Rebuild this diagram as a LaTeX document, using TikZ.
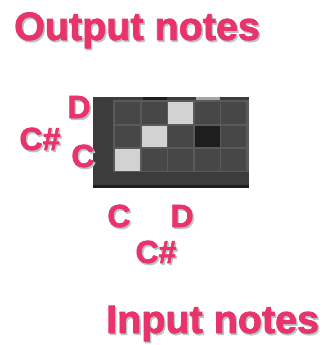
\documentclass[tikz,border=0pt]{standalone}
\usepackage{fontspec}
\setmainfont{Liberation Sans}
\newfontfamily\notefont{Liberation Sans Bold}[FakeBold=2]
\usetikzlibrary{positioning}
\definecolor{notepink}{HTML}{E8336B}
\definecolor{noteshadow}{HTML}{B4C6C6}
\definecolor{gridbg}{HTML}{3C3C3C}
\definecolor{gridgap}{HTML}{5A5A5A}
\definecolor{cellgray}{HTML}{474747}
\definecolor{cellon}{HTML}{D2D2D2}
\definecolor{celldark}{HTML}{1E1E1E}

% nhãn có bóng mờ
\newcommand{\notelabel}[4]{%
  \node[notetext, text=noteshadow, #4] (#1-s) at ([shift={(1.5,1.8)}]#2) {#3};
  \node[notetext, #4] (#1) at (#2) {#3};
}

\begin{document}
\begin{tikzpicture}[x=1pt, y=-1pt,
    notetext/.style={font=\notefont\fontsize{32}{32}\selectfont, text=notepink, inner sep=0pt, anchor=base},
    titletext/.style={font=\notefont\fontsize{39.5}{39.5}\selectfont, anchor=base west},
    cell/.style={fill=cellgray}]

            % Khung
            \useasboundingbox (0,0) rectangle (327,345);

            % Nền ma trận
            \fill[gridbg] (93,97) rectangle (249,185);
            \fill[gridgap] (113,100) rectangle (249,172);
            \fill[celldark] (93,185) rectangle (249,188);
            \fill[celldark] (143,97) rectangle (167,100);
            \fill[cellon!70!gridbg] (196,97) rectangle (220,100);

            % Các ô
            \foreach \i in {1,...,5} {
              \foreach \j in {1,...,3} {
                \fill[cell] ({115+26.5*(\i-1)},{102+23.5*(\j-1)}) rectangle ++(25,21.5);
              }
            }
            \fill[cellon] (168,102) rectangle ++(25,21.5);   % D -> D
            \fill[cellon] (141.5,125.5) rectangle ++(25,21.5); % C# -> C#
            \fill[celldark] (194.5,125.5) rectangle ++(25,21.5);
            \fill[cellon] (115,149) rectangle ++(25,21.5);   % C -> C

            % Nhãn nốt ra
            \notelabel{outD}{79,118}{D}{}
            \notelabel{outCs}{40,150}{C\#}{}
            \notelabel{outC}{83,167}{C}{}

            % Nhãn nốt vào
            \notelabel{inC}{119,227}{C}{}
            \notelabel{inD}{182,227}{D}{}
            \notelabel{inCs}{156,263}{C\#}{}

            % Tiêu đề
            \notelabel{outtitle}{14,40}{Output notes}{titletext}
            \notelabel{intitle}{106,333}{Input notes}{titletext}

\end{tikzpicture}
\end{document}
